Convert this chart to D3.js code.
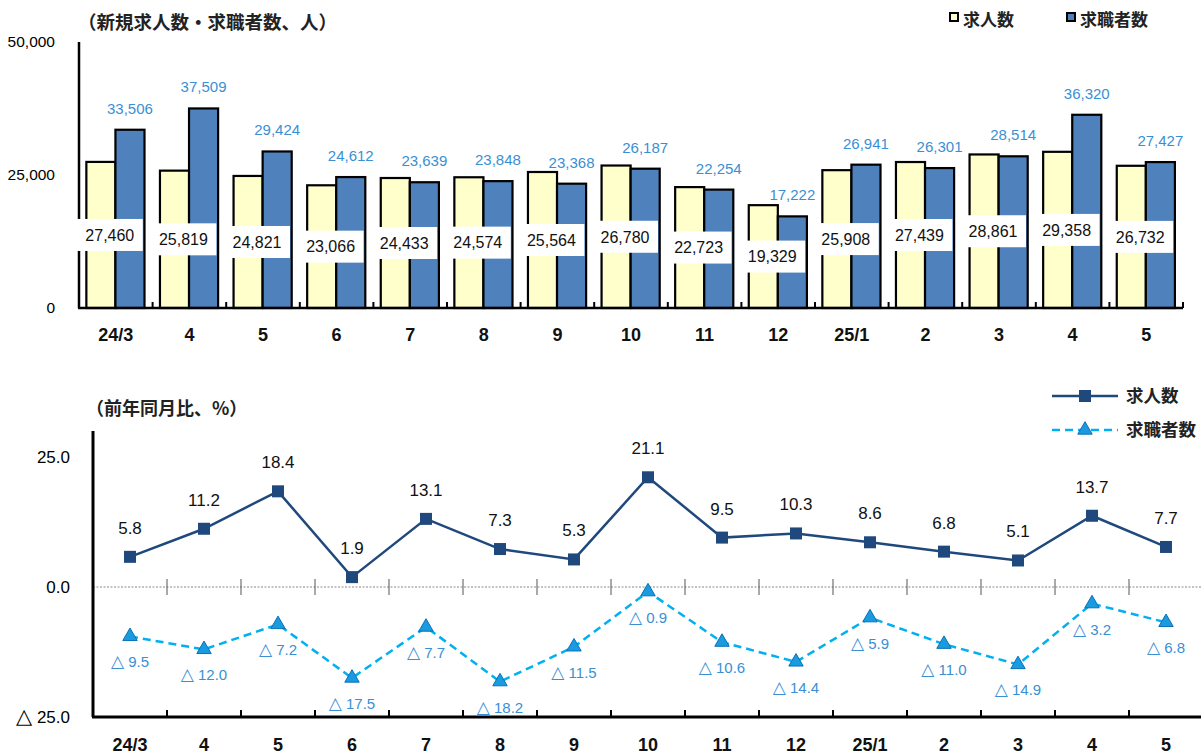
<!DOCTYPE html>
<html>
<head>
<meta charset="utf-8">
<script src="https://cdn.jsdelivr.net/npm/d3@7"></script>
<style>
  html, body { margin: 0; padding: 0; background: #fff; }
  svg { display: block; }
  .num { font-family: "Liberation Sans", Arial, "Noto Sans CJK JP", sans-serif; }
  .jp { font-family: "Noto Sans CJK JP", "Noto Sans", sans-serif; }
</style>
</head>
<body>
<script>
// ---------- data ----------
const categories = ["24/3","4","5","6","7","8","9","10","11","12","25/1","2","3","4","5"];
const seriesNames = ["求人数","求職者数"];
const jobOffers = [27460,25819,24821,23066,24433,24574,25564,26780,22723,19329,25908,27439,28861,29358,26732];
const jobSeekers = [33506,37509,29424,24612,23639,23848,23368,26187,22254,17222,26941,26301,28514,36320,27427];
const offersYoY = [5.8,11.2,18.4,1.9,13.1,7.3,5.3,21.1,9.5,10.3,8.6,6.8,5.1,13.7,7.7];
const seekersYoY = [-9.5,-12.0,-7.2,-17.5,-7.7,-18.2,-11.5,-0.9,-10.6,-14.4,-5.9,-11.0,-14.9,-3.2,-6.8];
const topTicks = [0,25000,50000];
const bottomTicks = [-25,0,25];
const topTitle = "（新規求人数・求職者数、人）";
const bottomTitle = "（前年同月比、%）";

// ---------- setup ----------
const W = 1201, H = 754;
const svg = d3.select("body").append("svg").attr("width", W).attr("height", H);
const idx = categories.map((c, i) => i);

const yellow = "#FFFFCC", blue = "#4F81BD", navy = "#1F497D", cyan = "#00B0F0", labelBlue = "#3A8FD4";

// writes a percentage with a large △ for negatives
function pctText(sel, triSize) {
  sel.each(function(d) {
    const t = d3.select(this);
    t.text(null);
    if (d < 0) {
      t.append("tspan").style("font-size", triSize + "px").attr("font-family", "DejaVu Sans").text("△");
      t.append("tspan").text(" " + (-d).toFixed(1));
    } else {
      t.append("tspan").text(d.toFixed(1));
    }
  });
}

// ================= TOP CHART =================
const xT = d3.scaleBand().domain(idx).range([79, 1183]);
const yT = d3.scaleLinear().domain([0, 50000]).range([308, 42]);
const bw = xT.bandwidth();
const barW = bw * 0.395, off = bw * 0.1;

const gTop = svg.append("g");

// bars
gTop.selectAll("rect.offer").data(jobOffers).enter().append("rect")
  .attr("x", (d, i) => xT(i) + off)
  .attr("y", d => yT(d))
  .attr("width", barW)
  .attr("height", d => yT(0) - yT(d))
  .attr("fill", yellow).attr("stroke", "#000").attr("stroke-width", 2.2);
gTop.selectAll("rect.seek").data(jobSeekers).enter().append("rect")
  .attr("x", (d, i) => xT(i) + off + barW)
  .attr("y", d => yT(d))
  .attr("width", barW)
  .attr("height", d => yT(0) - yT(d))
  .attr("fill", blue).attr("stroke", "#000").attr("stroke-width", 2.2);

// axes lines
gTop.append("line").attr("x1", 79).attr("x2", 79).attr("y1", yT(50000)).attr("y2", yT(0))
  .attr("stroke", "#000").attr("stroke-width", 2.5);
gTop.append("line").attr("x1", 78).attr("x2", 1183).attr("y1", yT(0)).attr("y2", yT(0))
  .attr("stroke", "#000").attr("stroke-width", 2.5);
gTop.selectAll("line.tk").data(idx.slice(1).concat([15])).enter().append("line")
  .attr("x1", i => i < 15 ? xT(i) : 1183).attr("x2", i => i < 15 ? xT(i) : 1183)
  .attr("y1", yT(0) - 6).attr("y2", yT(0))
  .attr("stroke", "#000").attr("stroke-width", 2);

// y axis labels
const yAxT = gTop.append("g").attr("transform", "translate(79,0)")
  .call(d3.axisLeft(yT).tickValues(topTicks).tickFormat(d3.format(",")).tickSize(0).tickPadding(24));
yAxT.select(".domain").remove();
yAxT.selectAll("text").attr("class", "num").style("font-size", "15.5px").attr("fill", "#000");

// x axis labels
const xAxT = gTop.append("g").attr("transform", `translate(0,${yT(0)})`)
  .call(d3.axisBottom(xT).tickFormat(i => categories[i]).tickSize(0).tickPadding(20));
xAxT.select(".domain").remove();
xAxT.selectAll("text").attr("class", "num").style("font-size", "18px").style("font-weight", "bold").attr("fill", "#111");

// seekers labels (blue, above)
gTop.selectAll("text.sl").data(jobSeekers).enter().append("text")
  .attr("class", "num")
  .attr("x", (d, i) => xT(i) + off + barW * 1.5)
  .attr("y", d => yT(d) - 16)
  .attr("text-anchor", "middle")
  .style("font-size", "15px")
  .attr("fill", labelBlue)
  .text(d => d3.format(",")(d));

// offers labels (white boxes)
const og = gTop.selectAll("g.ol").data(jobOffers).enter().append("g")
  .attr("transform", (d, i) => `translate(${xT(i) + bw / 2 - 6},${(yT(d) + yT(0)) / 2})`);
og.append("rect").attr("x", -33).attr("y", -16).attr("width", 66).attr("height", 32).attr("fill", "#fff");
og.append("text").attr("class", "num").attr("text-anchor", "middle").attr("dy", "0.36em")
  .style("font-size", "16px").attr("fill", "#111")
  .text(d => d3.format(",")(d));

// title
svg.append("text").attr("class", "jp").attr("x", 78).attr("y", 29)
  .style("font-size", "18.5px").style("font-weight", "bold").attr("fill", "#222").text(topTitle);

// top legend
const legT = svg.append("g");
const legItems = [{name: seriesNames[0], fill: yellow, x: 950}, {name: seriesNames[1], fill: blue, x: 1067}];
legItems.forEach(it => {
  legT.append("rect").attr("x", it.x).attr("y", 13).attr("width", 8).attr("height", 8)
    .attr("fill", it.fill).attr("stroke", "#000").attr("stroke-width", 2);
  legT.append("text").attr("class", "jp").attr("x", it.x + 13).attr("y", 26)
    .style("font-size", "17px").style("font-weight", "bold").attr("fill", "#222").text(it.name);
});

// ================= BOTTOM CHART =================
const xB = d3.scaleBand().domain(idx).range([93, 1203]);
const yB = d3.scaleLinear().domain([-25, 30]).range([717, 431]);
const bwB = xB.bandwidth();
const cx = i => xB(i) + bwB / 2;
const gBot = svg.append("g");

// zero line
gBot.append("line").attr("x1", 93).attr("x2", 1201).attr("y1", yB(0)).attr("y2", yB(0))
  .attr("stroke", "#888").attr("stroke-width", 1).attr("stroke-dasharray", "2,1.5");
gBot.selectAll("line.zt").data(idx.slice(1)).enter().append("line")
  .attr("x1", i => xB(i)).attr("x2", i => xB(i))
  .attr("y1", yB(0) - 8).attr("y2", yB(0) + 8)
  .attr("stroke", "#555").attr("stroke-width", 1);

// axes
gBot.append("line").attr("x1", 93).attr("x2", 93).attr("y1", 431).attr("y2", yB(-25))
  .attr("stroke", "#000").attr("stroke-width", 3);
gBot.append("line").attr("x1", 92).attr("x2", 1201).attr("y1", yB(-25)).attr("y2", yB(-25))
  .attr("stroke", "#000").attr("stroke-width", 3);
gBot.selectAll("line.bt").data(idx.slice(1)).enter().append("line")
  .attr("x1", i => xB(i)).attr("x2", i => xB(i))
  .attr("y1", yB(-25) - 7).attr("y2", yB(-25))
  .attr("stroke", "#000").attr("stroke-width", 2);

const yAxB = gBot.append("g").attr("transform", "translate(93,0)")
  .call(d3.axisLeft(yB).tickValues(bottomTicks).tickSize(0).tickPadding(23));
yAxB.select(".domain").remove();
yAxB.selectAll("text").attr("class", "num").style("font-size", "17px").attr("fill", "#000")
  .call(pctText, 21);

const xAxB = gBot.append("g").attr("transform", `translate(0,${yB(-25)})`)
  .call(d3.axisBottom(xB).tickFormat(i => categories[i]).tickSize(0).tickPadding(21));
xAxB.select(".domain").remove();
xAxB.selectAll("text").attr("class", "num").style("font-size", "18px").style("font-weight", "bold").attr("fill", "#111");

// offers line
const line1 = d3.line().x((d, i) => cx(i)).y(d => yB(d));
gBot.append("path").datum(offersYoY).attr("d", line1)
  .attr("fill", "none").attr("stroke", navy).attr("stroke-width", 2.5);
gBot.selectAll("rect.mk").data(offersYoY).enter().append("rect")
  .attr("x", (d, i) => cx(i) - 6).attr("y", d => yB(d) - 6)
  .attr("width", 12).attr("height", 12).attr("fill", navy);
gBot.selectAll("text.ol").data(offersYoY).enter().append("text")
  .attr("class", "num").attr("text-anchor", "middle")
  .attr("x", (d, i) => cx(i)).attr("y", d => yB(d) - 23)
  .style("font-size", "17px").attr("fill", "#111").call(pctText, 17);

// seekers line
gBot.append("path").datum(seekersYoY).attr("d", line1)
  .attr("fill", "none").attr("stroke", cyan).attr("stroke-width", 2.5).attr("stroke-dasharray", "8,5");
const tri = d3.symbol().type(d3.symbolTriangle).size(90);
gBot.selectAll("path.tri").data(seekersYoY).enter().append("path")
  .attr("d", tri)
  .attr("transform", (d, i) => `translate(${cx(i)},${yB(d)})`)
  .attr("fill", "#1A9BE0").attr("stroke", "#0A70B8").attr("stroke-width", 1);
gBot.selectAll("text.sl").data(seekersYoY).enter().append("text")
  .attr("class", "num").attr("text-anchor", "middle")
  .attr("x", (d, i) => cx(i)).attr("y", d => yB(d) + 31)
  .style("font-size", "15px").attr("fill", labelBlue).call(pctText, 17);

// subtitle
svg.append("text").attr("class", "jp").attr("x", 86).attr("y", 415)
  .style("font-size", "18px").style("font-weight", "bold").attr("fill", "#222").text(bottomTitle);

// bottom legend
const legB = svg.append("g");
legB.append("line").attr("x1", 1052).attr("x2", 1118).attr("y1", 396).attr("y2", 396)
  .attr("stroke", navy).attr("stroke-width", 2.5);
legB.append("rect").attr("x", 1079).attr("y", 390).attr("width", 12).attr("height", 12).attr("fill", navy);
legB.append("text").attr("class", "jp").attr("x", 1126).attr("y", 402)
  .style("font-size", "17.5px").style("font-weight", "bold").attr("fill", "#222").text(seriesNames[0]);
legB.append("line").attr("x1", 1052).attr("x2", 1118).attr("y1", 430).attr("y2", 430)
  .attr("stroke", cyan).attr("stroke-width", 2.5).attr("stroke-dasharray", "8,5");
legB.append("path").attr("d", tri).attr("transform", "translate(1085,430)")
  .attr("fill", "#1A9BE0").attr("stroke", "#0A70B8").attr("stroke-width", 1);
legB.append("text").attr("class", "jp").attr("x", 1126).attr("y", 436)
  .style("font-size", "17.5px").style("font-weight", "bold").attr("fill", "#222").text(seriesNames[1]);
</script>
</body>
</html>
